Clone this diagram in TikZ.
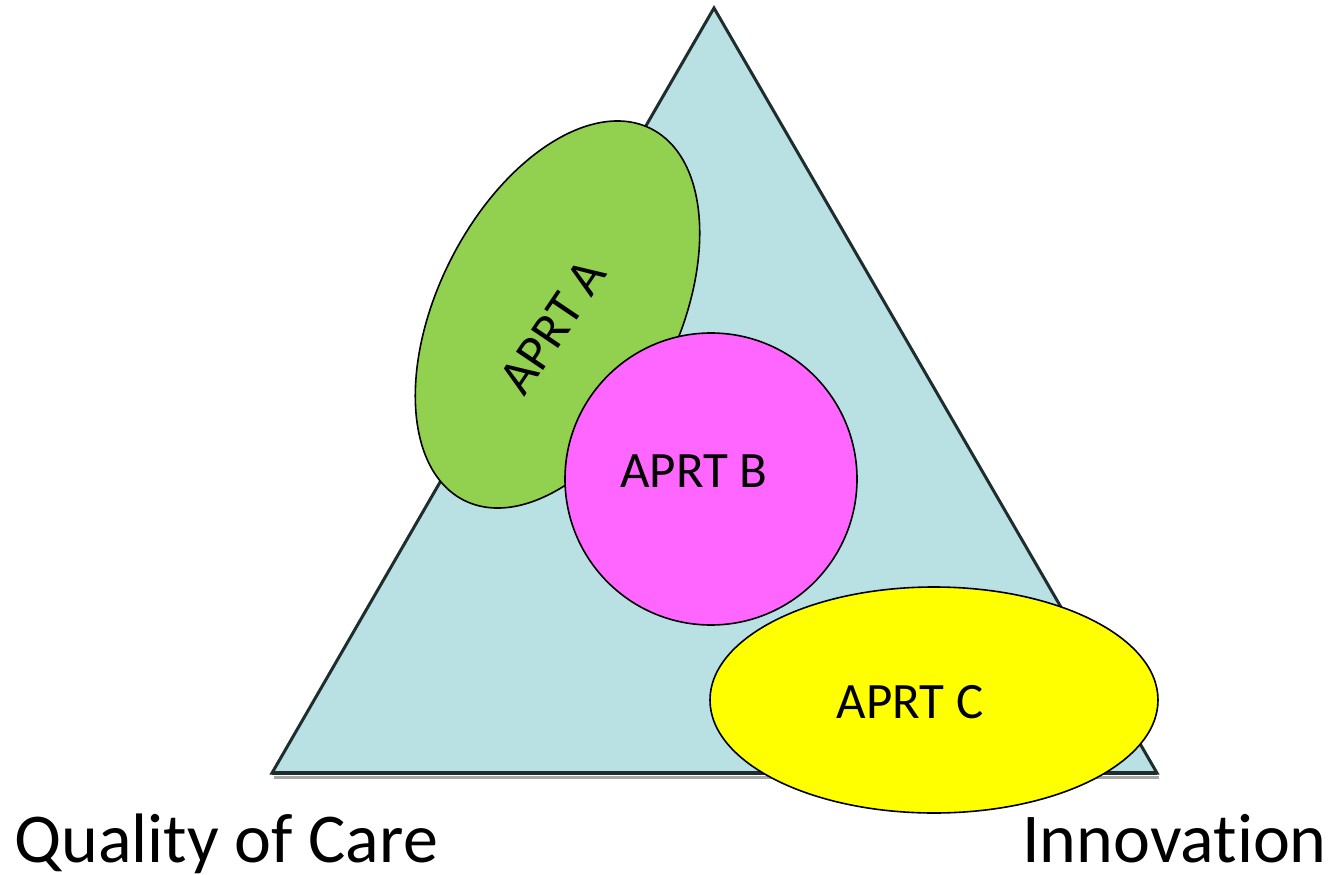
\documentclass[tikz,border=0pt]{standalone}
\usepackage{fontspec}
\setmainfont{Carlito}[Ligatures=NoCommon]
\usepackage{tikz}
\usetikzlibrary{calc}

\definecolor{triblue}{RGB}{185,224,227}
\definecolor{aprtgreen}{RGB}{146,208,80}
\definecolor{aprtpink}{RGB}{255,102,255}
\definecolor{aprtyellow}{RGB}{255,255,0}
\definecolor{edgegrey}{RGB}{31,45,45}

\tikzset{
  blob/.style={draw=black,line width=1.6pt},
  aprt/.style={font=\fontsize{51}{60}\selectfont,inner sep=0pt},
  corner/.style={font=\fontsize{70}{80}\selectfont,inner sep=0pt}
}

\begin{document}
\begin{tikzpicture}[x=1pt,y=-1pt]
                \useasboundingbox (0,0) rectangle (1334,875);
                % triangle with its shadow
                \coordinate (top) at (714,8);
                \coordinate (left) at (272,773);
                \coordinate (right) at (1157,773);
                \draw [gray!70,line width=3pt] ($(left)+(2,4)$) -- ($(right)+(2,4)$);
                \filldraw [fill=triblue,draw=edgegrey,line width=3pt,line join=miter] (top) -- (left) -- (right) -- cycle;
                \draw [edgegrey,line width=4pt] (left) -- (right);
                % the three groups
                \filldraw [blob,fill=aprtgreen,rotate around={63.3:(557.5,314.5)}] (557.5,314.5) ellipse (208 and 120);
                \node [aprt,rotate=56] (a) at (553,327) {APRT A};
                \filldraw [blob,fill=aprtpink] (711,479) circle (146);
                \node [aprt] (b) at (694,471) {APRT B};
                \filldraw [blob,fill=aprtyellow] (934,700) ellipse (224 and 113);
                \node [aprt] (c) at (910,702) {APRT C};
                % corner labels
                \node [corner,anchor=base west] (quality) at (14,862) {Quality of Care};
                \node [corner,anchor=base east] (innov) at (1327,862) {Innovation};
            \end{tikzpicture}
\end{document}
